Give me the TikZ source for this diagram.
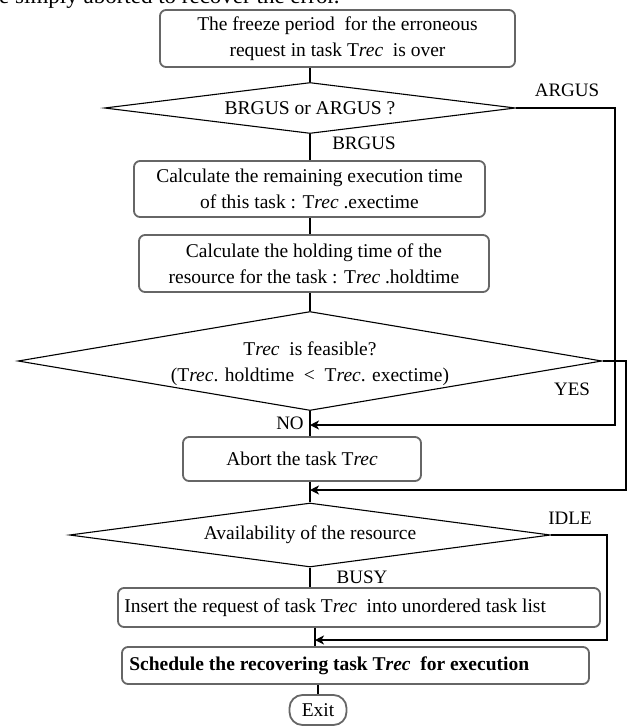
\documentclass[tikz,border=0pt]{standalone}
\usepackage{fontspec}
\setmainfont{Liberation Serif}
\usetikzlibrary{shapes.geometric,arrows.meta}
\tikzset{
  box/.style={draw=black!60, line width=1.8pt, rounded corners=6pt, inner sep=0pt, fill=white, align=center, font=\fontsize{19.5}{26}\selectfont},
  dec/.style={draw=black, line width=1.1pt, shape=diamond, inner sep=0pt},
  txt/.style={inner sep=0pt, align=center, font=\fontsize{19.5}{26}\selectfont},
  lab/.style={inner sep=0pt, font=\fontsize{19}{22}\selectfont},
  conn/.style={draw=black, line width=1.2pt},
  arr/.style={conn, -{Stealth[length=9pt,width=9pt,inset=2.5pt]}},
}
\newcommand{\Trec}{T\textit{rec}}
\begin{document}
\begin{tikzpicture}[x=1pt,y=-1pt]
\useasboundingbox (0,0) rectangle (627,726);
\clip (0,0) rectangle (627,726);
% cut-off line of preceding text
\node[txt, anchor=base west, font=\fontsize{23}{26}\selectfont] (prev) at (-1,3) {e simply aborted to recover the error.};
% boxes
\node[box, minimum width=355pt, minimum height=57pt] (b1) at (337.5,38.5) {The freeze period\ \ for the erroneous\\request in task \Trec\ \ is over};
\node[dec, minimum width=411pt, minimum height=51pt] (d1) at (310,108) {};
\node[txt] (t1) at (d1) {BRGUS or ARGUS ?};
\node[box, minimum width=351pt, minimum height=56pt] (b2) at (309.5,189) {Calculate the remaining execution time\\of this task : \Trec\ .exectime};
\node[box, minimum width=350pt, minimum height=57pt] (b3) at (314,263.5) {Calculate the holding time of the\\resource for the task : \Trec\ .holdtime};
\node[dec, minimum width=584pt, minimum height=99pt] (d3) at (310,361) {};
\node[txt] (t3) at (310,364) {\Trec\ \ is feasible?\\(\Trec. holdtime\ \ <\ \ \Trec. exectime)};
\node[box, minimum width=238pt, minimum height=44pt] (ab) at (302,459) {Abort the task \Trec};
\node[dec, minimum width=481pt, minimum height=64pt] (d4) at (310,535) {};
\node[txt] (t4) at (d4) {Availability of the resource};
\node[box, minimum width=482pt, minimum height=39pt] (ins) at (359,607.5) {};
\node[txt, anchor=west] (tins) at ([xshift=7pt]ins.west) {Insert the request of task \Trec\ \ into unordered task list};
\node[box, minimum width=467pt, minimum height=37pt] (sch) at (355.5,665.5) {};
\node[txt, anchor=west, font=\fontsize{19.5}{26}\selectfont\bfseries] (tsch) at ([xshift=8pt]sch.west) {Schedule the recovering task \Trec\ \ for execution};
\node[box, rounded corners=13pt, minimum width=57pt, minimum height=30pt] (ex) at (318,710) {Exit};
% labels
\node[lab] (lA) at (567,90) {ARGUS};
\node[lab] (lB) at (364,143) {BRGUS};
\node[lab] (lY) at (572,389) {YES};
\node[lab] (lN) at (290,423) {NO};
\node[lab] (lI) at (570,518) {IDLE};
\node[lab] (lU) at (362,577) {BUSY};
% helper coordinates
\coordinate (n1) at (310,425);
\coordinate (n2) at (310,490);
\coordinate (n3) at (315,640);
\coordinate (r1) at (615,0);
\coordinate (r2) at (626,0);
\coordinate (r3) at (607,0);
% main connectors
\draw[conn] (b1.south -| d1.north) -- (d1.north);
\draw[conn] (d1.south) -- (d1.south |- b2.north);
\draw[conn] (b2.south -| d1.south) -- (b3.north -| d1.south);
\draw[conn] (b3.south -| d3.north) -- (d3.north);
\draw[conn] (d3.south) -- (d3.south |- ab.north);
\draw[conn] (ab.south -| d4.north) -- (d4.north);
\draw[conn] (d4.south) -- (d4.south |- ins.north);
\draw[conn] (ins.south -| n3) -- (sch.north -| n3);
\draw[conn] (sch.south -| ex.north) -- (ex.north);
% branch connectors
\draw[arr] (d1.east) -- (d1.east -| r1) -- (r1 |- n1) -- (n1);
\draw[arr] (d3.east) -- (d3.east -| r2) -- (r2 |- n2) -- (n2);
\draw[arr] (d4.east) -- (d4.east -| r3) -- (r3 |- n3) -- (n3);
\end{tikzpicture}
\end{document}
